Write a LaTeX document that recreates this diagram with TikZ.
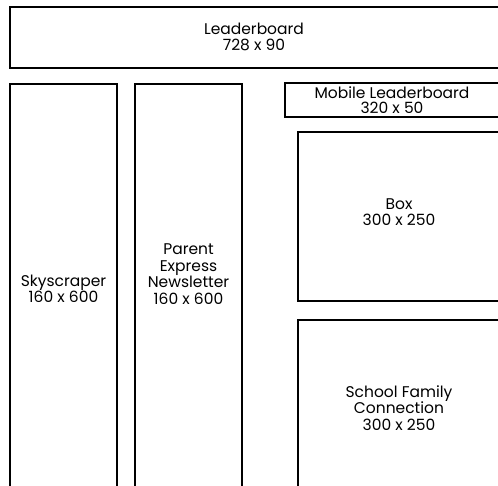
\documentclass[tikz,border=0pt]{standalone}
\usepackage{fontspec}
\newfontfamily\adfont{Poppins}
\usetikzlibrary{positioning}

\tikzset{
  adbox/.style={draw, line width=1.4pt},
  adlabel/.style={align=center, font=\adfont\fontsize{15.5}{16.5}\selectfont, inner sep=0pt}
}

\begin{document}
\begin{tikzpicture}[x=1pt, y=-1pt]
\useasboundingbox (0,0) rectangle (498,486);

% top banner
\draw[adbox] (10,7) rectangle (500,68);
\node[adlabel] (leader) at (254,37) {Leaderboard\\728 x 90};

% two tall columns on the left
\draw[adbox] (10,84) rectangle (117,496);
\node[adlabel] (sky) at (63.5,289) {Skyscraper\\160 x 600};

\draw[adbox] (135,84) rectangle (242,496);
\node[adlabel] (parent) at (188.5,274) {Parent\\Express\\Newsletter\\160 x 600};

% right column
\draw[adbox] (285,83) rectangle (500,117);
\node[adlabel, font=\adfont\fontsize{15.5}{15}\selectfont] (mobile) at (392,100) {Mobile Leaderboard\\320 x 50};

\draw[adbox] (298,132) rectangle (500,301);
\node[adlabel] (box) at (399,212) {Box\\300 x 250};

\draw[adbox] (298,320) rectangle (500,496);
\node[adlabel] (school) at (399,408) {School Family\\Connection\\300 x 250};

\end{tikzpicture}
\end{document}
